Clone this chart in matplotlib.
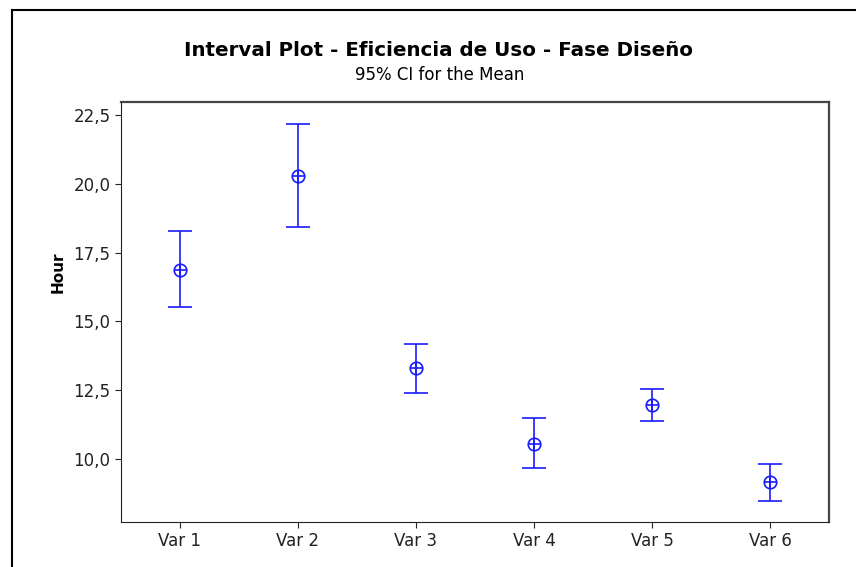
import numpy as np
import matplotlib.pyplot as plt
from matplotlib.ticker import FuncFormatter
from matplotlib.lines import Line2D

# datos
variables = ['Var 1', 'Var 2', 'Var 3', 'Var 4', 'Var 5', 'Var 6']
medias = [16.87, 20.28, 13.30, 10.57, 11.97, 9.18]
superior = [18.27, 22.17, 14.17, 11.48, 12.55, 9.82]
inferior = [15.53, 18.43, 12.40, 9.67, 11.38, 8.48]
yticks = [10.0, 12.5, 15.0, 17.5, 20.0, 22.5]

azul = '#1a1aff'

fig = plt.figure(figsize=(8.56, 5.67), dpi=100)
ax = fig.add_axes([121/856, 1 - 522/567, (829-121)/856, (522-101.7)/567])

x = np.arange(1, len(variables) + 1)
med = np.array(medias)
err = [med - np.array(inferior), np.array(superior) - med]

ax.errorbar(x, med, yerr=err, fmt='none', ecolor=azul, elinewidth=1.2,
            capsize=8.5, capthick=1.2)
ax.plot(x, med, 'o', mfc='none', mec=azul, ms=9, mew=1.2)
ax.plot(x, med, '+', color=azul, ms=9, mew=1.2)

ax.set_xlim(0.5, 6.5)
ax.set_ylim(7.72, 22.98)
ax.set_xticks(x)
ax.set_xticklabels(variables)
ax.set_yticks(yticks)
ax.yaxis.set_major_formatter(FuncFormatter(lambda v, p: f'{v:.1f}'.replace('.', ',')))
ax.tick_params(labelsize=12, colors='#222222', length=4)

for s in ['left', 'bottom']:
    ax.spines[s].set_color('#222222')
for s in ['top', 'right']:
    ax.spines[s].set_color('#444444')
    ax.spines[s].set_linewidth(1.6)

ax.set_ylabel('Hour', fontsize=11, fontweight='bold', labelpad=14)
ax.yaxis.set_label_coords(-0.078, 0.595)

fig.text(438/856, 1 - 50/567, 'Interval Plot - Eficiencia de Uso - Fase Diseño',
         ha='center', va='center', fontsize=14.3, fontweight='bold')
fig.text(440/856, 1 - 75/567, '95% CI for the Mean', ha='center', va='center',
         fontsize=12)

# marco exterior
fig.add_artist(Line2D([12/856, 12/856], [0, 1 - 10/567], color='black', lw=1.5))
fig.add_artist(Line2D([12/856, 855/856], [1 - 10/567, 1 - 10/567], color='black', lw=1.5))

fig.savefig('out.png', dpi=100)
